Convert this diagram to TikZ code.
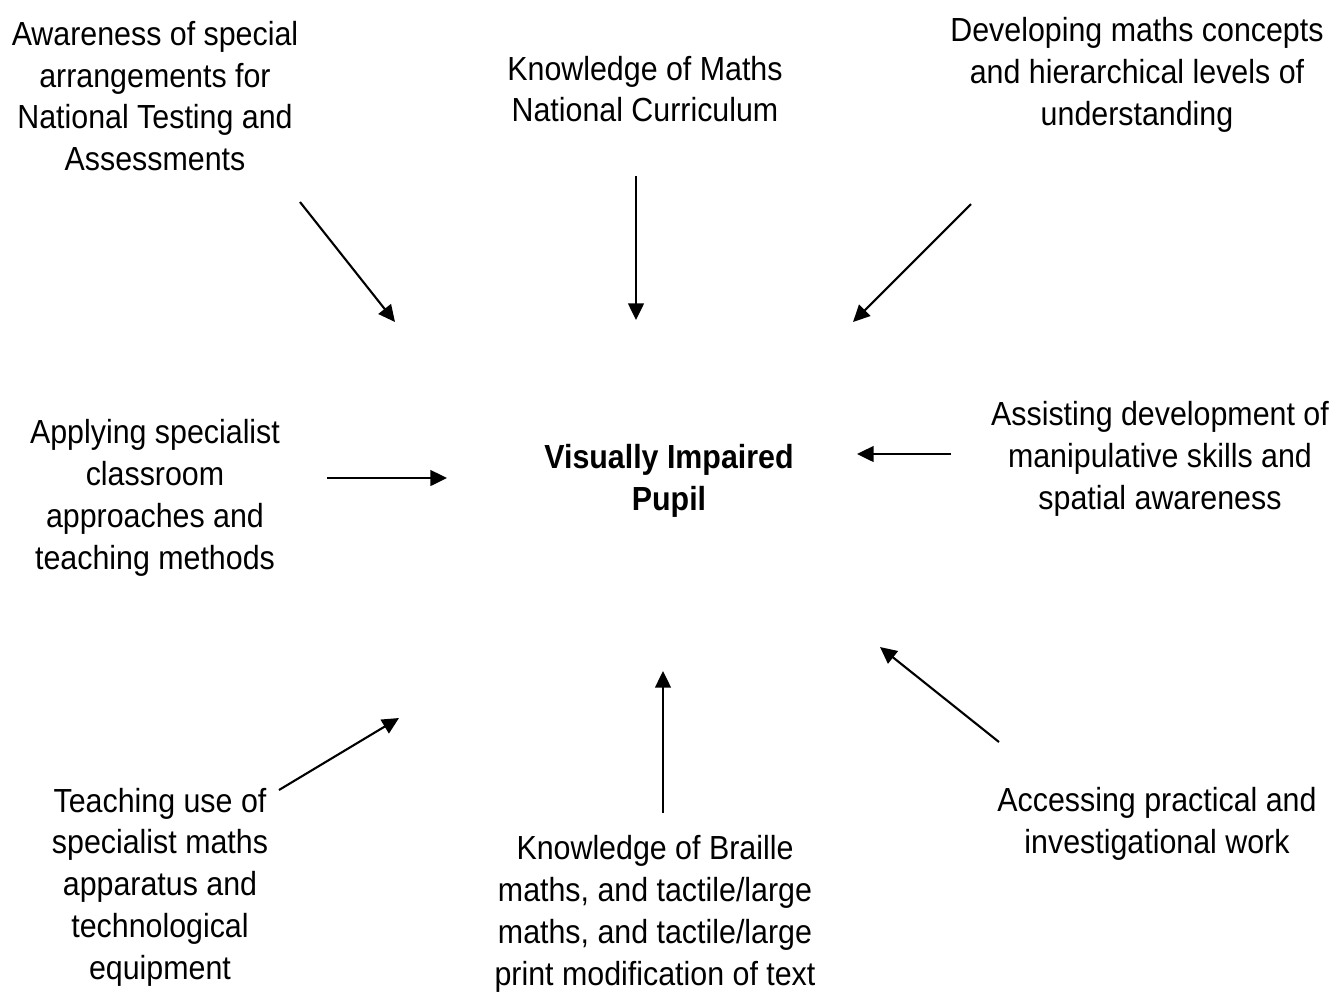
\documentclass[tikz,border=0pt]{standalone}
\usepackage{fontspec}
\setmainfont{Liberation Sans}[FakeStretch=0.91]
\usetikzlibrary{arrows.meta}
\tikzset{
  lbl/.style={align=center, font=\fontsize{19}{23.8}\selectfont, inner sep=0pt},
  arr/.style={line width=1.2pt, -{Triangle[length=9.5pt,width=9pt]}}
}

\begin{document}
\begin{tikzpicture}[x=0.02cm, y=-0.02cm]
  \useasboundingbox (0,0) rectangle (1336,992);
  % the topics round the pupil
  \node[lbl] (aware) at (155,96) {Awareness of special\\arrangements for\\National Testing and\\Assessments};
  \node[lbl] (curric) at (645,89) {Knowledge of Maths\\National Curriculum};
  \node[lbl] (concepts) at (1137,75) {Developing maths concepts\\and hierarchical levels of\\understanding};
  \node[lbl] (applying) at (155,498) {Applying specialist\\classroom\\approaches and\\teaching methods};
  \node[lbl, font=\fontsize{19}{23.8}\selectfont\bfseries] (pupil) at (669,481) {Visually Impaired\\Pupil};
  \node[lbl] (assisting) at (1160,459) {Assisting development of\\manipulative skills and\\spatial awareness};
  \node[lbl] (teaching) at (160,887) {Teaching use of\\specialist maths\\apparatus and\\technological\\equipment};
  \node[lbl] (braille) at (655,914) {Knowledge of Braille\\maths, and tactile/large\\maths, and tactile/large\\print modification of text};
  \node[lbl] (practical) at (1157,824) {Accessing practical and\\investigational work};
  % arrow ends
  \foreach \n/\x/\y in {a1/300/202, a2/395/322, b1/636/176, b2/636/320,
                        c1/971/204, c2/853/322, d1/327/478, d2/447/478,
                        e1/951/454, e2/857/454, f1/279/790, f2/399/718,
                        g1/663/813, g2/663/671, h1/999/742, h2/880/647}
    \coordinate (\n) at (\x,\y);
  \foreach \s/\t in {a1/a2, b1/b2, c1/c2, d1/d2, e1/e2, f1/f2, g1/g2, h1/h2}
    \draw[arr] (\s) -- (\t);
\end{tikzpicture}
\end{document}
